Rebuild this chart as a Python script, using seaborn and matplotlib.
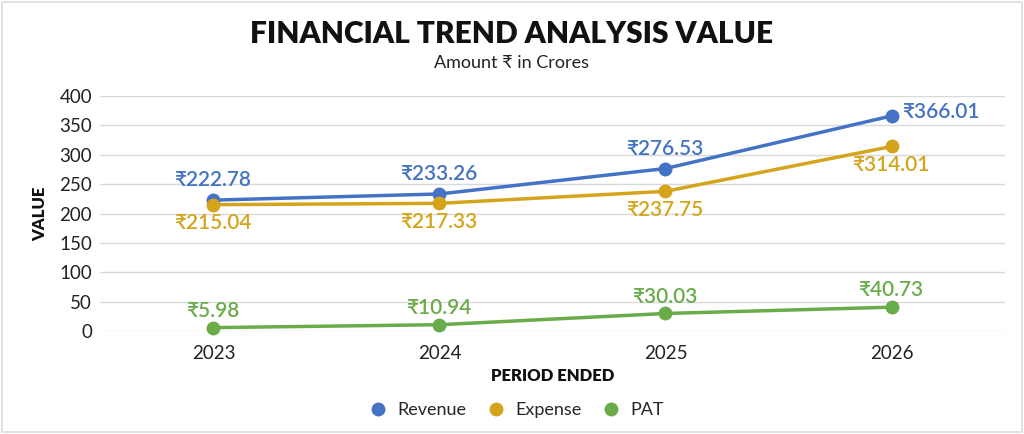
import matplotlib
matplotlib.use("Agg")
import matplotlib.pyplot as plt
import seaborn as sns
import pandas as pd
from matplotlib.lines import Line2D

periods = ["2023", "2024", "2025", "2026"]
revenue = [222.78, 233.26, 276.53, 366.01]
expense = [215.04, 217.33, 237.75, 314.01]
pat = [5.98, 10.94, 30.03, 40.73]
series_names = ["Revenue", "Expense", "PAT"]
colors = {"Revenue": "#4472C4", "Expense": "#D4A51C", "PAT": "#6AAB4A"}

rows = []
for name, vals in zip(series_names, [revenue, expense, pat]):
    for p, v in zip(periods, vals):
        rows.append({"Period": p, "Value": v, "Series": name})
df = pd.DataFrame(rows)
df["x"] = df["Period"].map({p: i for i, p in enumerate(periods)})

sns.set_theme(style="white")
FAM = ["Lato", "Noto Sans", "DejaVu Sans"]
plt.rcParams["font.family"] = FAM

fig = plt.figure(figsize=(10.24, 4.34), dpi=100)
fig.patch.set_facecolor("white")
ax = fig.add_axes([0.098, 0.237, 0.883, 0.542])

sns.lineplot(data=df, x="x", y="Value", hue="Series", palette=colors,
             marker="o", markersize=10, markeredgewidth=0, linewidth=2.5,
             ax=ax, legend=False)
for l in ax.lines:
    l.set_clip_on(False)

ax.set_xlim(-0.5, 3.5)
ax.set_ylim(0, 400)
ax.set_yticks(range(0, 401, 50))
ax.set_xticks(range(len(periods)))
ax.set_xticklabels(periods)
ax.yaxis.grid(True, color="#d9d9d9", linewidth=1)
ax.set_axisbelow(True)
for s in ax.spines.values():
    s.set_visible(False)
ax.tick_params(axis="both", labelsize=13.5, length=0, colors="#222222")
ax.tick_params(axis="x", pad=10)
ax.tick_params(axis="y", pad=6)
ax.set_xlabel("PERIOD ENDED", fontsize=12, fontweight="heavy", labelpad=4, color="#111111")
ax.set_ylabel("VALUE", fontsize=12, fontweight="heavy", labelpad=8, color="#111111")

lab_fs = 15
lw = "semibold"
for i, v in enumerate(revenue):
    if i == 3:
        ax.annotate(f"₹{v:.2f}", (i, v), xytext=(8, 3), textcoords="offset points",
                    ha="left", va="center", color=colors["Revenue"], fontsize=lab_fs, fontweight=lw)
    else:
        ax.annotate(f"₹{v:.2f}", (i, v), xytext=(0, 7), textcoords="offset points",
                    ha="center", va="bottom", color=colors["Revenue"], fontsize=lab_fs, fontweight=lw)
for i, v in enumerate(expense):
    ax.annotate(f"₹{v:.2f}", (i, v), xytext=(0, -6), textcoords="offset points",
                ha="center", va="top", color=colors["Expense"], fontsize=lab_fs, fontweight=lw)
for i, v in enumerate(pat):
    ax.annotate(f"₹{v:.2f}", (i, v), xytext=(0, 5), textcoords="offset points",
                ha="center", va="bottom", color=colors["PAT"], fontsize=lab_fs, fontweight=lw)

fig.text(0.5, 0.922, "FINANCIAL TREND ANALYSIS VALUE", ha="center", va="center",
         fontsize=21.5, fontweight="heavy", color="#111111")
fig.text(0.5, 0.855, "Amount ₹ in Crores", ha="center", va="center",
         fontsize=13, color="#222222")

handles = [Line2D([], [], marker="o", linestyle="", markersize=10,
                  markerfacecolor=colors[n], markeredgewidth=0) for n in series_names]
fig.legend(handles, series_names, loc="center", bbox_to_anchor=(0.5, 0.055), ncol=3,
           frameon=False, fontsize=13, handletextpad=0.1, columnspacing=0.6)

fig.add_artist(plt.Rectangle((0.002, 0.004), 0.996, 0.992, transform=fig.transFigure,
                             fill=False, edgecolor="#dddddd", linewidth=1.2))

fig.savefig("out.png", dpi=100, facecolor="white")
